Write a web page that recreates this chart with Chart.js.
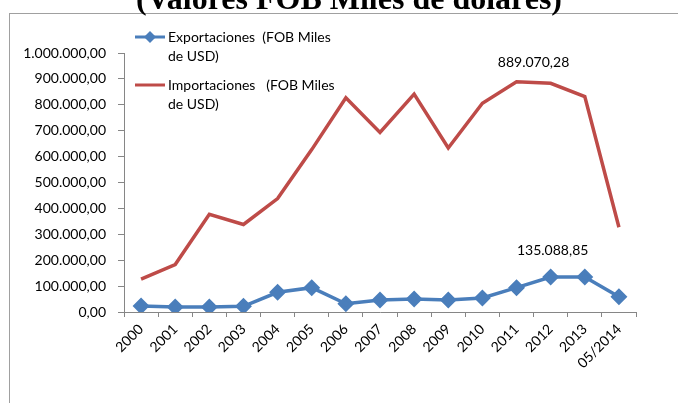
<!DOCTYPE html>
<html><head><meta charset="utf-8">
<script src="https://cdn.jsdelivr.net/npm/chart.js@4.4.0/dist/chart.umd.min.js"></script>
<style>
html,body{margin:0;padding:0;background:#fff;overflow:hidden;}
#wrap{position:relative;width:678px;height:403px;overflow:hidden;}
#frame{position:absolute;left:9px;top:13px;width:669px;height:390px;border-left:1px solid #a0a0a0;border-top:1px solid #a0a0a0;box-sizing:border-box;}
#title{position:absolute;left:0;width:678px;top:-20px;line-height:32px;text-align:center;font:bold 32px "Liberation Serif","Times New Roman",serif;color:#000;white-space:nowrap;padding-left:20px;box-sizing:border-box;}
canvas{position:absolute;left:0;top:0;}
</style></head>
<body><div id="wrap">
<div id="frame"></div>
<canvas id="c" width="678" height="403"></canvas>
<div id="title">(Valores FOB Miles de dolares)</div>
</div>
<script>
const categories = ['2000','2001','2002','2003','2004','2005','2006','2007','2008','2009','2010','2011','2012','2013','05/2014'];
const exportaciones = [23000,19000,19000,22000,76000,94000,32000,46000,50000,46000,54000,94000,135088.85,135000,59000];
const importaciones = [127000,183000,377000,338000,438000,627000,827000,693000,841000,633000,806000,889070.28,883000,832000,327000];
const yTicks = [0,100000,200000,300000,400000,500000,600000,700000,800000,900000,1000000];
const seriesNames = [['Exportaciones  (FOB Miles','de USD)'],['Importaciones   (FOB Miles','de USD)']];
const labelPoints = [{series:1,index:11,text:'889.070,28',dx:17,dy:-19},{series:0,index:12,text:'135.088,85',dx:2,dy:-27}];

const BLUE='#4A7EBB', RED='#BE4B48';
const FONT='Lato';
function fmt(v){
  const parts=v.toFixed(2).split('.');
  return parts[0].replace(/\B(?=(\d{3})+(?!\d))/g,'.')+','+parts[1];
}
const overlay={
  id:'overlay',
  afterDraw(chart){
    const ctx=chart.ctx;
    ctx.save();
    ctx.font='14px '+FONT;
    ctx.fillStyle='#000';
    ctx.textBaseline='middle';
    const leg=[{y:37,color:BLUE,marker:true},{y:85,color:RED,marker:false}];
    leg.forEach((l,i)=>{
      ctx.strokeStyle=l.color;ctx.lineWidth=3;
      ctx.beginPath();ctx.moveTo(135,l.y);ctx.lineTo(165,l.y);ctx.stroke();
      if(l.marker){
        ctx.fillStyle=l.color;ctx.beginPath();
        ctx.moveTo(150,l.y-6);ctx.lineTo(156,l.y);ctx.lineTo(150,l.y+6);ctx.lineTo(144,l.y);ctx.closePath();ctx.fill();
      }
      ctx.fillStyle='#000';ctx.textAlign='left';
      ctx.fillText(seriesNames[i][0],168,l.y);
      ctx.fillText(seriesNames[i][1],168,l.y+19);
    });
    ctx.textAlign='center';
    labelPoints.forEach(lp=>{
      const pt=chart.getDatasetMeta(lp.series).data[lp.index];
      ctx.fillText(lp.text,pt.x+lp.dx,pt.y+lp.dy);
    });
    ctx.restore();
  }
};
new Chart(document.getElementById('c'),{
  type:'line',
  data:{labels:categories,datasets:[
    {label:seriesNames[0].join(' '),data:exportaciones,borderColor:BLUE,backgroundColor:BLUE,borderWidth:3.5,pointStyle:'rectRot',pointRadius:6,pointHoverRadius:6,pointBackgroundColor:BLUE,pointBorderColor:BLUE,tension:0},
    {label:seriesNames[1].join(' '),data:importaciones,borderColor:RED,backgroundColor:RED,borderWidth:3.5,pointRadius:0,tension:0}
  ]},
  options:{
    responsive:false,animation:false,devicePixelRatio:1,
    layout:{padding:{top:53,right:42,left:0,bottom:0}},
    plugins:{legend:{display:false},tooltip:{enabled:false},title:{display:false}},
    scales:{
      x:{offset:true,
        grid:{offset:true,drawOnChartArea:false,drawTicks:true,tickLength:5,color:'#868686'},
        border:{display:true,color:'#868686',width:1},
        ticks:{maxRotation:45,minRotation:45,autoSkip:false,padding:4,color:'#000',font:{family:FONT,size:14}},
        afterFit(s){s.height=91;}
      },
      y:{min:0,max:1000000,
        afterBuildTicks(s){s.ticks=yTicks.map(v=>({value:v}));},
        grid:{drawOnChartArea:false,drawTicks:true,tickLength:6,color:'#868686'},
        border:{display:true,color:'#868686',width:1},
        ticks:{padding:12,color:'#000',font:{family:FONT,size:14},callback:v=>fmt(v)},
        afterFit(s){s.width=124;}
      }
    }
  },
  plugins:[overlay]
});
</script>
</body></html>
